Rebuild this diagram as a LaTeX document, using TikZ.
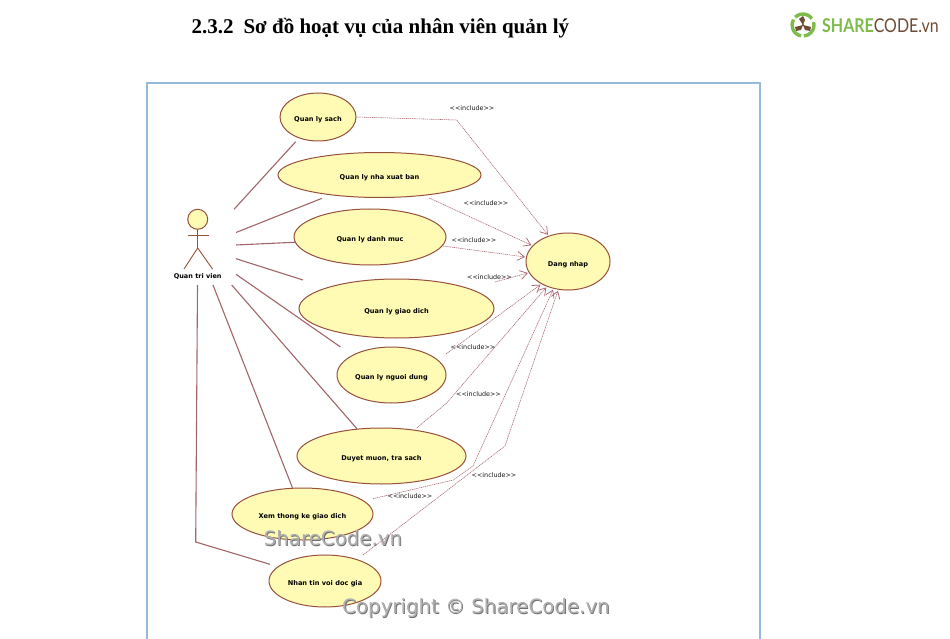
\documentclass[tikz,border=0pt]{standalone}
\usepackage{fontspec}
\usepackage{graphicx}
\setmainfont{Liberation Serif}
\newfontfamily\ucfont{DejaVu Sans}
\newfontfamily\logofont{Lato}
\usetikzlibrary{shapes.geometric,arrows.meta}
\definecolor{ucfill}{HTML}{FFFBB4}
\definecolor{ucline}{HTML}{96503C}
\definecolor{assoc}{HTML}{A0666A}
\definecolor{incl}{HTML}{A8606A}
\definecolor{framec}{HTML}{96BADC}
\definecolor{lgreen}{HTML}{7DBB4A}
\definecolor{lbrown}{HTML}{6E4C36}
\definecolor{wm}{HTML}{B0B0B0}
\definecolor{wmsh}{HTML}{707070}
\newcommand{\uct}[1]{\raisebox{-2pt}[5pt][0pt]{#1}}
\tikzset{
  usecase/.style={ellipse,draw=ucline,fill=ucfill,line width=1pt,inner sep=0pt,
    font=\ucfont\bfseries\fontsize{6.6}{8}\selectfont,text=black},
  asc/.style={draw=assoc,line width=1.1pt},
  inc/.style={draw=incl,line width=0.55pt,dash pattern=on 1.2pt off 0.7pt,
    -{Straight Barb[length=7pt,width=9pt,line width=0.7pt]}},
  incl label/.style={font=\ucfont\fontsize{6.4}{8}\selectfont,text=black!90,inner sep=0pt},
  actor/.style={draw=ucline,line width=0.9pt},
  mark text/.style={font=\ucfont\fontsize{19.8}{22}\selectfont,inner sep=0pt}
}
\begin{document}
\begin{tikzpicture}[x=1pt,y=-1pt]
\useasboundingbox (0,0) rectangle (950,639);
\fill[white] (0,0) rectangle (950,639);
% frame
\draw[framec,line width=1.2pt] (147,639) -- (147,83) -- (760,83) -- (760,639);
% title
\node[anchor=west,inner sep=0pt,font=\bfseries\fontsize{21}{24}\selectfont] (title) at (191.5,28.5) {2.3.2\hspace{0.22em} Sơ đồ hoạt vụ của nhân viên quản lý};
% logo
\draw[lgreen,line width=3.4pt] (803,25) ++(100:11) arc (100:210:11);
\draw[lgreen,line width=3.4pt] (803,25) ++(225:11) arc (225:325:11);
\draw[lgreen,line width=3.4pt] (803,25) ++(345:11) arc (345:445:11);
\fill[lbrown] (803,25) circle (1.2);
\fill[lbrown] (803,25) -- (799,19) -- (803,16) -- (805,20) -- cycle;
\fill[lbrown] (803,25) -- (795,27) -- (796,31) -- (801,30) -- cycle;
\fill[lbrown] (803,25) -- (811,27) -- (810,31) -- (805,30) -- cycle;
\node[anchor=west,inner sep=0pt,font=\logofont\fontsize{19}{22}\selectfont] (logo) at (822,26) {\scalebox{0.84}[1]{\textcolor{lgreen}{\bfseries SHARE}\textcolor{lbrown}{CODE.vn}}};
% use cases
\node[usecase,minimum width=76pt,minimum height=48pt] (sach) at (318,117) {\uct{Quan ly sach}};
\node[usecase,minimum width=203pt,minimum height=45pt] (nxb) at (379.5,175) {\uct{Quan ly nha xuat ban}};
\node[usecase,minimum width=152pt,minimum height=56pt] (dm) at (370,237) {\uct{Quan ly danh muc}};
\node[usecase,minimum width=195pt,minimum height=59pt] (gd) at (396.5,308.5) {\uct{Quan ly giao dich}};
\node[usecase,minimum width=109pt,minimum height=56pt] (nd) at (391.5,375) {\uct{Quan ly nguoi dung}};
\node[usecase,minimum width=169pt,minimum height=56pt] (dm2) at (381.5,456) {\uct{Duyet muon, tra sach}};
\node[usecase,minimum width=141pt,minimum height=52pt] (tk) at (302.5,514) {\uct{Xem thong ke giao dich}};
\node[usecase,minimum width=112pt,minimum height=52pt] (nt) at (325,581) {\uct{Nhan tin voi doc gia}};
\node[usecase,minimum width=84pt,minimum height=57pt,outer sep=1.5pt] (dn) at (568,261.5) {\uct{Dang nhap}};
% actor
\node[circle,draw=ucline,fill=ucfill,line width=1pt,minimum size=20pt,inner sep=0pt] (head) at (197.7,219.3) {};
\coordinate (hip) at (197.7,248);
\coordinate (armL) at (187.5,235.7);
\coordinate (armR) at (209,235.7);
\coordinate (legL) at (184,269);
\coordinate (legR) at (212.5,269);
\draw[actor] (head.south) -- (hip);
\draw[actor] (armL) -- (armR);
\draw[actor] (legL) -- (hip) -- (legR);
\node[font=\ucfont\bfseries\fontsize{6.5}{8}\selectfont,inner sep=0pt] (qtv) at (197.7,277) {Quan tri vien};
% actor association ends
\coordinate (a1) at (234,209.3);   \coordinate (s1) at (295.7,141.7);
\coordinate (a2) at (236,232.5);   \coordinate (s2) at (322,198.3);
\coordinate (a3) at (236,245);
\coordinate (a4) at (236,258.7);   \coordinate (s4) at (303,280);
\coordinate (a5) at (236,274.3);   \coordinate (s5) at (340.5,347);
\coordinate (a6) at (231.7,285);
\coordinate (a7) at (213,285);
\coordinate (a8) at (197.5,285);   \coordinate (b8) at (195.7,542); \coordinate (s8) at (270,564.3);
\draw[asc] (a1) -- (s1);
\draw[asc] (a2) -- (s2);
\draw[asc] (a3) -- (dm.184);
\draw[asc] (a4) -- (s4);
\draw[asc] (a5) -- (s5);
\draw[asc] (a6) -- (dm2.132);
\draw[asc] (a7) -- (tk.111);
\draw[asc] (a8) -- (b8) -- (s8);
% include connectors
\coordinate (w1) at (456.7,120);
\coordinate (o2) at (429.3,198);
\coordinate (o4) at (495,282);
\coordinate (o5) at (446,354);
\coordinate (o6) at (416.7,428);  \coordinate (w6) at (446.7,403);
\coordinate (o7) at (373,498.7);  \coordinate (w7a) at (453.3,480); \coordinate (w7b) at (473,466);
\coordinate (o8) at (363,555);    \coordinate (w8) at (505,446);
\draw[inc] (sach.east) -- (w1) -- (dn.127);
\draw[inc] (o2) -- (dn.156);
\draw[inc] (dm.-7.5) -- (dn.174);
\draw[inc] (o4) -- (dn.196);
\draw[inc] (o5) -- (dn.220);
\draw[inc] (o6) -- (w6) -- (dn.230);
\draw[inc] (o7) -- (w7a) -- (w7b) -- (dn.242);
\draw[inc] (o8) -- (w8) -- (dn.251);
% include labels
\node[incl label] (l1) at (472,108.5) {<{}<include>{}>};
\node[incl label] (l2) at (486,203.5) {<{}<include>{}>};
\node[incl label] (l3) at (474,240.5) {<{}<include>{}>};
\node[incl label] (l4) at (489.5,277.5) {<{}<include>{}>};
\node[incl label] (l5) at (473,347.5) {<{}<include>{}>};
\node[incl label] (l6) at (478.5,394) {<{}<include>{}>};
\node[incl label] (l7) at (410,496) {<{}<include>{}>};
\node[incl label] (l8) at (494,475) {<{}<include>{}>};
% watermarks
\node[mark text,text=wmsh] at (333.8,538.8) {ShareCode.vn};
\node[mark text,text=wm] (wm1) at (333,538) {ShareCode.vn};
\node[mark text,text=wmsh] at (476.8,608.8) {Copyright © ShareCode.vn};
\node[mark text,text=wm] (wm2) at (476,608) {Copyright © ShareCode.vn};
\end{tikzpicture}
\end{document}
